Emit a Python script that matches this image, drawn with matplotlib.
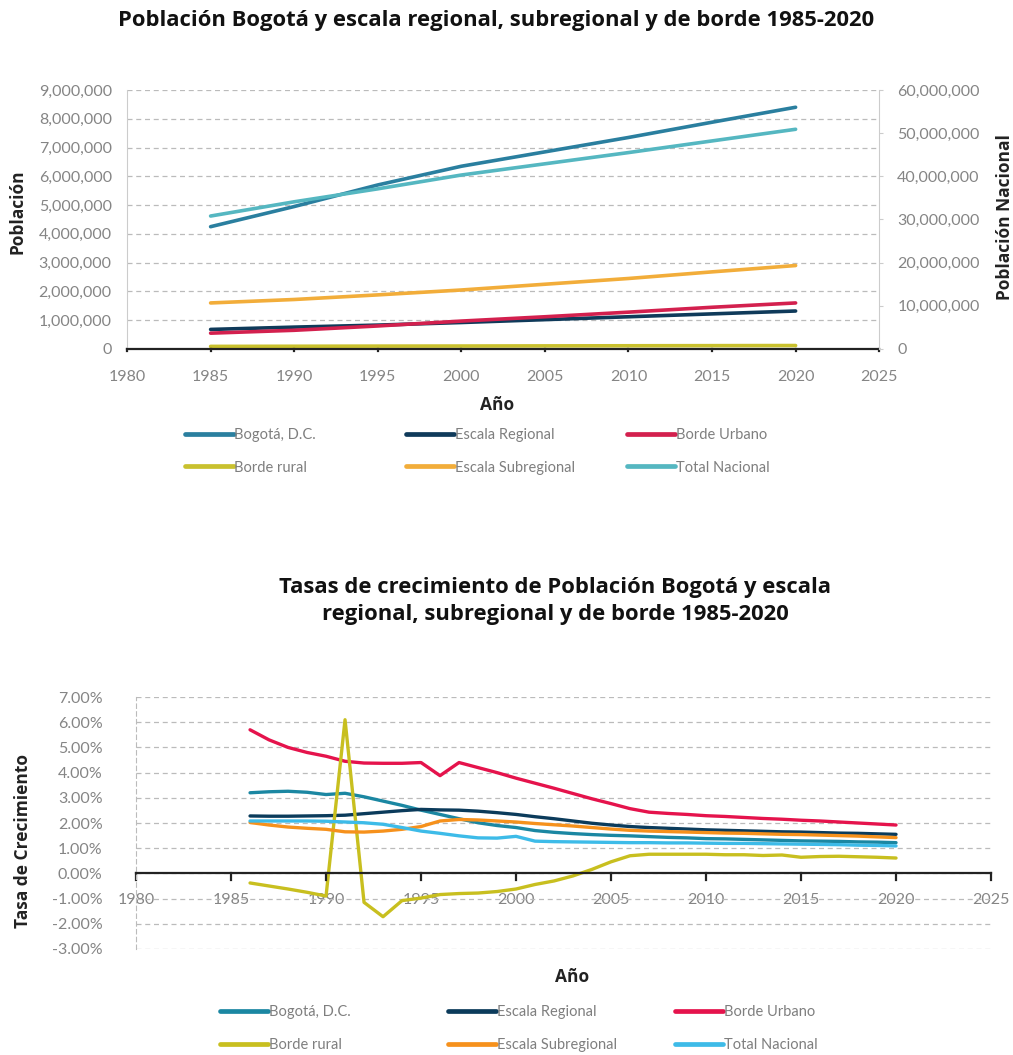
import matplotlib.pyplot as plt
import matplotlib.ticker as mtick
from matplotlib.lines import Line2D

# Población por escala (años quinquenales)
anios = [1985, 1990, 1995, 2000, 2005, 2010, 2015, 2020]
pob_bogota = [4250000, 4950000, 5700000, 6350000, 6850000, 7350000, 7880000, 8400000]
pob_regional = [680000, 760000, 830000, 920000, 1020000, 1120000, 1220000, 1320000]
pob_urbano = [550000, 650000, 800000, 970000, 1120000, 1280000, 1450000, 1600000]
pob_rural = [90000, 95000, 100000, 103000, 108000, 112000, 116000, 120000]
pob_subregional = [1600000, 1720000, 1880000, 2050000, 2250000, 2450000, 2680000, 2900000]
pob_nacional = [30800000, 34100000, 37100000, 40300000, 42900000, 45500000, 48200000, 50900000]

# Tasas de crecimiento anual (%)
anios_tasa = list(range(1986, 2021))
tasa_bogota = [3.20, 3.24, 3.26, 3.22, 3.13, 3.18, 3.04, 2.87, 2.70, 2.51, 2.34, 2.17, 2.01, 1.90,
               1.82, 1.70, 1.63, 1.58, 1.54, 1.51, 1.49, 1.46, 1.43, 1.41, 1.38, 1.37, 1.35, 1.33,
               1.31, 1.29, 1.28, 1.27, 1.25, 1.24, 1.22]
tasa_regional = [2.28, 2.27, 2.27, 2.28, 2.29, 2.31, 2.37, 2.43, 2.49, 2.54, 2.52, 2.51, 2.47, 2.41,
                 2.34, 2.25, 2.17, 2.08, 1.99, 1.92, 1.86, 1.82, 1.79, 1.76, 1.73, 1.71, 1.69, 1.67,
                 1.65, 1.64, 1.62, 1.60, 1.59, 1.57, 1.55]
tasa_urbano = [5.70, 5.30, 5.00, 4.80, 4.65, 4.45, 4.38, 4.37, 4.37, 4.40, 3.88, 4.40, 4.20, 4.00,
               3.78, 3.58, 3.38, 3.17, 2.96, 2.77, 2.57, 2.43, 2.38, 2.34, 2.29, 2.26, 2.22, 2.18,
               2.15, 2.11, 2.08, 2.04, 2.00, 1.96, 1.92]
tasa_rural = [-0.38, -0.50, -0.62, -0.75, -0.90, 6.10, -1.15, -1.72, -1.08, -0.98, -0.84, -0.80,
              -0.78, -0.72, -0.62, -0.44, -0.30, -0.10, 0.16, 0.46, 0.70, 0.76, 0.76, 0.76, 0.76,
              0.74, 0.74, 0.71, 0.73, 0.64, 0.67, 0.68, 0.66, 0.64, 0.61]
tasa_subregional = [2.02, 1.92, 1.84, 1.79, 1.75, 1.65, 1.64, 1.68, 1.75, 1.86, 2.08, 2.14, 2.12,
                    2.08, 2.04, 1.98, 1.93, 1.88, 1.82, 1.76, 1.71, 1.68, 1.66, 1.64, 1.62, 1.60,
                    1.59, 1.57, 1.55, 1.54, 1.52, 1.50, 1.48, 1.45, 1.42]
tasa_nacional = [2.08, 2.08, 2.08, 2.08, 2.07, 2.04, 2.01, 1.95, 1.82, 1.68, 1.59, 1.49, 1.41, 1.40,
                 1.47, 1.28, 1.26, 1.25, 1.24, 1.23, 1.22, 1.22, 1.21, 1.21, 1.20, 1.19, 1.19, 1.18,
                 1.17, 1.16, 1.15, 1.14, 1.12, 1.11, 1.09]

nombres = ['Bogotá, D.C.', 'Escala Regional', 'Borde Urbano',
           'Borde rural', 'Escala Subregional', 'Total Nacional']
colores_pob = ['#2a7f9f', '#0f3a5a', '#d3204e', '#c9c12e', '#f2ad3a', '#55b7c1']
colores_tasa = ['#1b87a2', '#0b3b5b', '#e5134c', '#c8bf1f', '#f6911c', '#3dbbe8']

GRIS = '#858585'
FUENTE = 'Lato'
TITULO = 'Open Sans'
plt.rcParams['font.family'] = [FUENTE, 'DejaVu Sans']

fig = plt.figure(figsize=(10.13, 10.55), dpi=100)


def leyenda(fig, colores, xs, y0):
    # tres columnas de dos entradas cada una
    orden = [(0, 3), (1, 4), (2, 5)]
    for x, (a, b) in zip(xs, orden):
        h = [Line2D([], [], color=colores[i], lw=3.4, solid_capstyle='round') for i in (a, b)]
        fig.legend(h, [nombres[a], nombres[b]], loc='upper left', bbox_to_anchor=(x, y0),
                   frameon=False, handlelength=3.3, handletextpad=0.05, labelspacing=1.25,
                   borderpad=0, borderaxespad=0,
                   prop={'family': FUENTE, 'size': 10.5}, labelcolor='#7f7f7f')


def ejes_base(ax, pad_x):
    ax.spines['top'].set_visible(False)
    ax.spines['bottom'].set_position(('data', 0))
    ax.spines['bottom'].set_color('#222222')
    ax.spines['bottom'].set_linewidth(1.6)
    ax.yaxis.grid(True, linestyle=(0, (4, 3)), color='#bbbbbb', lw=0.9)
    ax.set_axisbelow(True)
    ax.set_xlim(1980, 2025)
    ax.set_xticks(range(1980, 2026, 5))
    ax.tick_params(axis='x', direction='in', length=0, colors=GRIS, labelsize=11.5, pad=pad_x)


def etiqueta(ax, texto, eje, x, y):
    kw = dict(fontsize=12.5, fontweight='bold', color='#222222', family=TITULO)
    if eje == 'x':
        ax.set_xlabel(texto, **kw)
        ax.xaxis.set_label_coords(x, y)
    else:
        ax.set_ylabel(texto, **kw)
        ax.yaxis.set_label_coords(x, y)


# ---------------- Población ----------------
ax1 = fig.add_axes([0.1254, 0.6692, 0.7425, 0.2455])
ejes_base(ax1, 15)
ax1.spines['right'].set_visible(False)
ax1.spines['left'].set_color('#cccccc')
ax1.set_ylim(0, 9000000)
ax1.set_yticks(range(0, 9000001, 1000000))
ax1.yaxis.set_major_formatter(mtick.FuncFormatter(lambda v, p: f'{int(v):,}'))
ax1.tick_params(axis='y', length=0, colors=GRIS, labelsize=11.5, pad=11)

series_pob = [pob_bogota, pob_regional, pob_urbano, pob_rural, pob_subregional]
for vals, c in zip(series_pob, colores_pob):
    ax1.plot(anios, vals, color=c, lw=2.6, solid_capstyle='round')
# marcas del eje x
for yr in range(1980, 2026, 5):
    ax1.plot([yr, yr], [0, -80000], color='#222222', lw=1.6, clip_on=False)

ax1b = ax1.twinx()
ax1b.set_ylim(0, 60000000)
ax1b.set_yticks(range(0, 60000001, 10000000))
ax1b.yaxis.set_major_formatter(mtick.FuncFormatter(lambda v, p: f'{int(v):,}'))
for s in ('top', 'left', 'bottom'):
    ax1b.spines[s].set_visible(False)
ax1b.spines['right'].set_color('#cccccc')
ax1b.tick_params(axis='y', length=3, color='#cccccc', colors=GRIS, labelsize=11.5, pad=10)
ax1b.plot(anios, pob_nacional, color=colores_pob[5], lw=2.6, solid_capstyle='round')

etiqueta(ax1, 'Población', 'y', -0.134, 0.53)
etiqueta(ax1b, 'Población Nacional', 'y', 1.155, 0.51)
etiqueta(ax1, 'Año', 'x', 0.492, -0.18)

fig.text(0.49, 0.981, 'Población Bogotá y escala regional, subregional y de borde 1985-2020',
         ha='center', va='center', fontsize=15.8, fontweight='bold', color='#111111',
         family=TITULO)
leyenda(fig, colores_pob, [0.183, 0.401, 0.619], 0.594)

# ---------------- Tasas de crecimiento ----------------
ax2 = fig.add_axes([0.1343, 0.1005, 0.8440, 0.2388])
ejes_base(ax2, 14)
ax2.spines['right'].set_visible(False)
ax2.spines['left'].set_color('#bbbbbb')
ax2.spines['left'].set_linestyle((0, (4, 3)))
ax2.set_ylim(-3, 7)
ax2.set_yticks(range(-3, 8))
ax2.yaxis.set_major_formatter(mtick.FuncFormatter(lambda v, p: f'{v:.2f}%'))
ax2.tick_params(axis='y', length=0, colors=GRIS, labelsize=11.5, pad=24)

series_tasa = [tasa_bogota, tasa_regional, tasa_urbano, tasa_rural, tasa_subregional, tasa_nacional]
for vals, c in zip(series_tasa, colores_tasa):
    ax2.plot(anios_tasa, vals, color=c, lw=2.4, solid_capstyle='round')
for yr in range(1980, 2026, 5):
    ax2.plot([yr, yr], [0, -0.25], color='#222222', lw=1.6, clip_on=False)

etiqueta(ax2, 'Tasa de Crecimiento', 'y', -0.122, 0.43)
etiqueta(ax2, 'Año', 'x', 0.51, -0.075)

fig.text(0.548, 0.4305, 'Tasas de crecimiento de Población Bogotá y escala\n'
         'regional, subregional y de borde 1985-2020',
         ha='center', va='center', fontsize=15.8, fontweight='bold', color='#111111',
         family=TITULO, linespacing=1.4)
leyenda(fig, colores_tasa, [0.217, 0.442, 0.666], 0.047)

fig.savefig('out.png', dpi=100, facecolor='white')
